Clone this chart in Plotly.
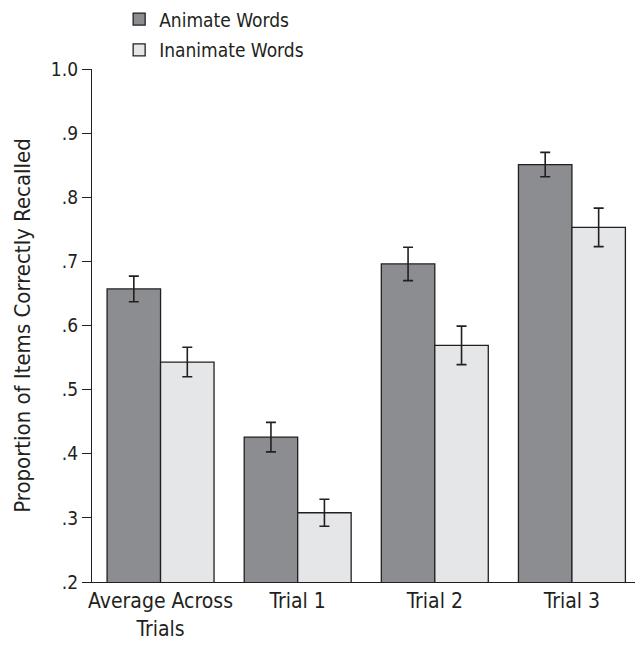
import plotly.graph_objects as go

categories = ["Average Across<br>Trials", "Trial 1", "Trial 2", "Trial 3"]
animate = [0.657, 0.426, 0.696, 0.851]
animate_err = [0.020, 0.023, 0.026, 0.019]
inanimate = [0.543, 0.308, 0.569, 0.753]
inanimate_err = [0.023, 0.021, 0.030, 0.030]
y_tickvals = [0.2, 0.3, 0.4, 0.5, 0.6, 0.7, 0.8, 0.9, 1.0]
y_ticktext = [".2", ".3", ".4", ".5", ".6", ".7", ".8", ".9", "1.0"]

FONT = "DejaVu Sans Condensed, Liberation Sans, Arial, sans-serif"
INK = "#231f20"

fig = go.Figure()
fig.add_trace(go.Bar(
    x=categories, y=animate, name="Animate Words",
    marker=dict(color="#8c8d90", line=dict(color=INK, width=1.3)),
    error_y=dict(type="data", array=animate_err, color=INK, thickness=1.6, width=5),
    legendgroup="a",
))
fig.add_trace(go.Bar(
    x=categories, y=inanimate, name="Inanimate Words",
    marker=dict(color="#e5e6e8", line=dict(color=INK, width=1.3)),
    error_y=dict(type="data", array=inanimate_err, color=INK, thickness=1.6, width=5),
    legendgroup="b",
))

fig.update_layout(
    width=635, height=649,
    margin=dict(l=92, r=0, t=69, b=67, autoexpand=False),
    paper_bgcolor="white", plot_bgcolor="white",
    barmode="group", bargap=0.22, bargroupgap=0,
    font=dict(family=FONT, color=INK, size=19),
    showlegend=True,
    legend=dict(x=0.05, xref="paper", y=1.134, yref="paper", xanchor="left", yanchor="top",
                font=dict(size=19), bgcolor="rgba(0,0,0,0)",
                traceorder="grouped", tracegroupgap=3,
                itemclick=False),
    xaxis=dict(range=[-0.5, 3.46], showline=True, linecolor=INK, linewidth=1.3,
               ticks="", tickfont=dict(size=21), showgrid=False, zeroline=False,
               fixedrange=True),
    yaxis=dict(range=[0.2, 1.0], tickvals=y_tickvals, ticktext=y_ticktext,
               showline=True, linecolor=INK, linewidth=1.3,
               ticks="outside", ticklen=9, tickwidth=1.3, tickcolor=INK,
               tickfont=dict(size=19), showgrid=False, zeroline=False,
               title=dict(text="Proportion of Items Correctly Recalled", font=dict(size=22), standoff=14),
               fixedrange=True),
)

fig.write_html("out.html", config={"displayModeBar": False},
               post_script="document.body.style.margin='0';")
